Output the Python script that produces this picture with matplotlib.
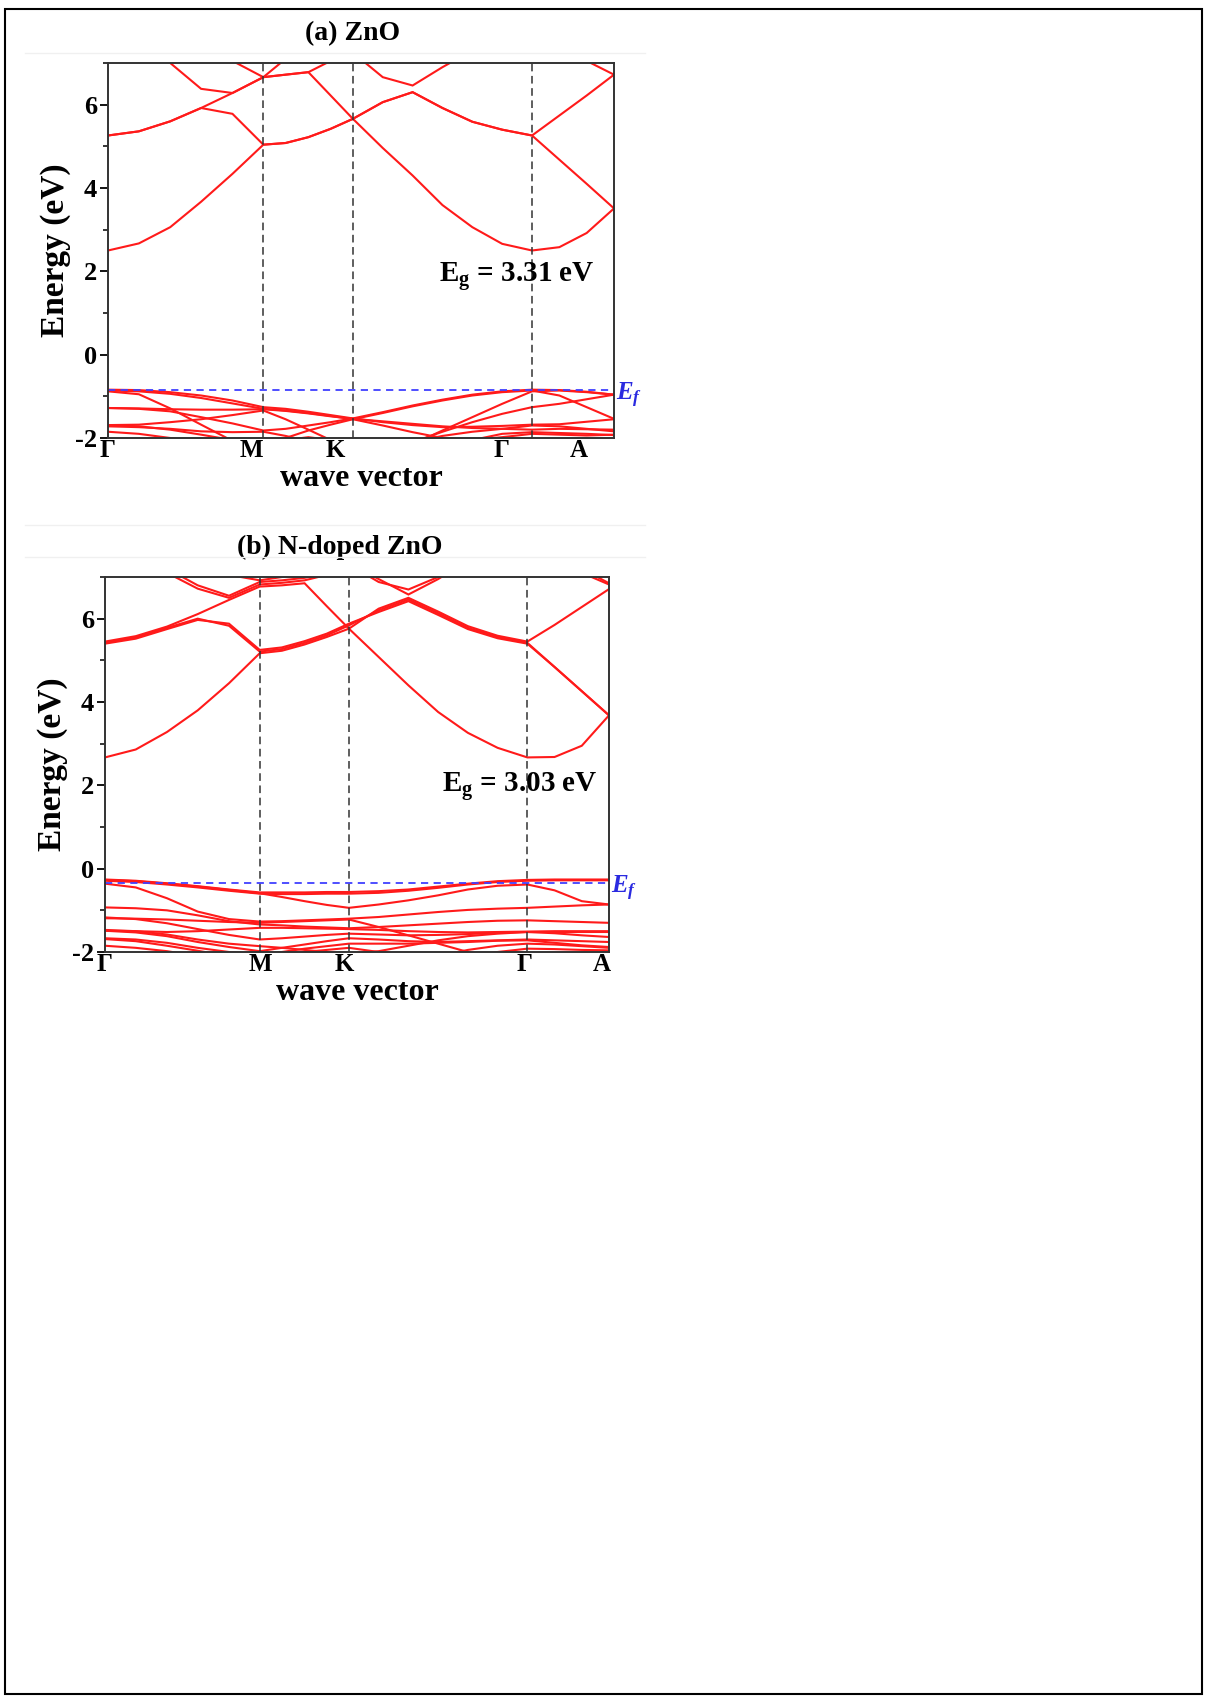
import matplotlib
matplotlib.use("Agg")
import matplotlib.pyplot as plt
import matplotlib.transforms as mtransforms
from matplotlib.lines import Line2D
from matplotlib.patches import Rectangle
from matplotlib.ticker import MultipleLocator

plt.rcParams["font.family"] = ["Liberation Serif", "DejaVu Serif"]
plt.rcParams["font.weight"] = "bold"
plt.rcParams["axes.unicode_minus"] = False
plt.rcParams["mathtext.fontset"] = "custom"
plt.rcParams["mathtext.rm"] = "Liberation Serif:bold"
plt.rcParams["mathtext.bf"] = "Liberation Serif:bold"
plt.rcParams["mathtext.it"] = "Liberation Serif:italic"

W, H = 1205, 1697

# k-path sampling (fraction of path length) and high-symmetry points
K_PATH = [0.000, 0.061, 0.123, 0.184, 0.246, 0.307, 0.351, 0.396, 0.440, 0.484,
          0.543, 0.602, 0.661, 0.720, 0.779, 0.838, 0.892, 0.946, 1.000]
HSP_LINES = [0.307, 0.484, 0.838]
HSP_NAMES = ["Γ", "M", "K", "Γ", "A"]

# (a) ZnO bands, eV
ZNO_CONDUCTION = [
    [2.50, 2.67, 3.06, 3.67, 4.34, 5.04, 5.08, 5.22, 5.42, 5.66, 4.96, 4.30, 3.59, 3.06, 2.66, 2.50, 2.58, 2.92, 3.51],
    [5.26, 5.36, 5.60, 5.92, 5.78, 5.04, 5.08, 5.22, 5.42, 5.66, 6.06, 6.30, 5.92, 5.59, 5.40, 5.26, 4.68, 4.10, 3.51],
    [5.26, 5.36, 5.60, 5.92, 6.28, 6.66, 6.72, 6.78, 6.22, 5.66, 6.06, 6.30, 5.92, 5.59, 5.40, 5.26, 5.74, 6.22, 6.72],
    [7.80, 7.40, 7.00, 6.38, 6.28, 6.66, 6.72, 6.78, 7.05, 7.25, 6.66, 6.46, 6.90, 7.30, 7.60, 7.80, 7.50, 7.05, 6.72],
    [8.60, 8.30, 8.00, 7.60, 7.05, 6.66, 7.10, 7.50, 7.80, 8.00, 8.00, 8.00, 8.00, 8.00, 8.00, 8.00, 8.00, 8.00, 8.00],
]
ZNO_VALENCE = [
    [-0.84, -0.85, -0.90, -0.98, -1.10, -1.26, -1.30, -1.37, -1.45, -1.53, -1.38, -1.22, -1.08, -0.96, -0.88, -0.84, -0.85, -0.89, -0.96],
    [-0.86, -0.88, -0.94, -1.04, -1.17, -1.30, -1.34, -1.40, -1.47, -1.55, -1.40, -1.24, -1.10, -0.98, -0.90, -0.86, -0.98, -1.26, -1.54],
    [-0.88, -0.95, -1.29, -1.68, -2.07, -2.40, -2.50, -2.55, -2.60, -2.62, -2.45, -2.15, -1.82, -1.50, -1.18, -0.88, -0.86, -0.90, -0.96],
    [-1.28, -1.30, -1.36, -1.50, -1.65, -1.82, -1.78, -1.70, -1.62, -1.53, -1.62, -1.69, -1.74, -1.73, -1.71, -1.68, -1.67, -1.61, -1.55],
    [-1.28, -1.29, -1.31, -1.32, -1.32, -1.31, -1.35, -1.41, -1.48, -1.54, -1.60, -1.66, -1.72, -1.76, -1.78, -1.80, -1.78, -1.79, -1.80],
    [-1.69, -1.68, -1.62, -1.55, -1.45, -1.34, -1.55, -1.80, -2.05, -2.30, -2.40, -2.10, -1.85, -1.62, -1.42, -1.26, -1.18, -1.07, -0.96],
    [-1.69, -1.72, -1.80, -1.92, -2.05, -2.20, -2.00, -1.82, -1.68, -1.55, -1.70, -1.86, -2.00, -2.05, -1.98, -1.90, -1.92, -1.94, -1.92],
    [-1.72, -1.74, -1.78, -1.84, -1.86, -1.85, -1.95, -2.08, -2.20, -2.30, -2.25, -2.10, -1.95, -1.85, -1.78, -1.70, -1.72, -1.78, -1.84],
    [-1.85, -1.90, -2.00, -2.10, -2.15, -2.10, -2.05, -1.98, -2.05, -2.15, -2.30, -2.40, -2.25, -2.05, -1.90, -1.86, -1.88, -1.90, -1.93],
]
ZNO_EF = -0.84
ZNO_GAP = "3.31"

# (b) N-doped ZnO bands, eV
NZNO_CONDUCTION = [
    [2.67, 2.86, 3.28, 3.80, 4.45, 5.17, 5.23, 5.38, 5.56, 5.76, 5.08, 4.40, 3.76, 3.26, 2.90, 2.67, 2.68, 2.95, 3.68],
    [5.42, 5.55, 5.78, 6.00, 5.83, 5.21, 5.27, 5.42, 5.60, 5.84, 6.20, 6.46, 6.13, 5.78, 5.56, 5.42, 4.84, 4.26, 3.68],
    [5.45, 5.58, 5.81, 6.11, 6.45, 6.77, 6.80, 6.85, 6.30, 5.76, 6.24, 6.50, 6.17, 5.82, 5.59, 5.45, 5.85, 6.28, 6.71],
    [5.40, 5.52, 5.75, 5.97, 5.88, 5.25, 5.31, 5.46, 5.64, 5.88, 6.16, 6.42, 6.09, 5.75, 5.53, 5.40, 4.84, 4.26, 3.68],
    [7.90, 7.50, 7.10, 6.72, 6.50, 6.82, 6.86, 6.92, 7.05, 7.30, 6.88, 6.70, 7.00, 7.40, 7.70, 7.90, 7.60, 7.10, 6.82],
    [8.00, 7.60, 7.20, 6.80, 6.55, 6.88, 6.92, 6.98, 7.10, 7.35, 6.95, 6.58, 6.95, 7.40, 7.70, 8.00, 7.70, 7.20, 6.85],
    [8.60, 8.30, 8.00, 7.60, 7.05, 6.92, 7.00, 7.10, 7.40, 7.80, 8.00, 8.00, 8.00, 8.00, 8.00, 8.00, 8.00, 8.00, 8.00],
]
NZNO_VALENCE = [
    [-0.26, -0.29, -0.35, -0.42, -0.50, -0.57, -0.57, -0.57, -0.56, -0.56, -0.54, -0.50, -0.43, -0.36, -0.30, -0.27, -0.26, -0.26, -0.26],
    [-0.29, -0.32, -0.38, -0.45, -0.53, -0.60, -0.61, -0.61, -0.60, -0.60, -0.58, -0.53, -0.46, -0.38, -0.32, -0.29, -0.28, -0.28, -0.28],
    [-0.36, -0.45, -0.71, -1.03, -1.21, -1.27, -1.26, -1.24, -1.22, -1.20, -1.16, -1.10, -1.04, -0.99, -0.96, -0.94, -0.91, -0.88, -0.86],
    [-0.27, -0.30, -0.36, -0.43, -0.51, -0.59, -0.68, -0.78, -0.87, -0.94, -0.86, -0.76, -0.64, -0.50, -0.41, -0.38, -0.52, -0.78, -0.86],
    [-0.93, -0.95, -1.00, -1.12, -1.26, -1.34, -1.36, -1.39, -1.41, -1.43, -1.40, -1.36, -1.32, -1.28, -1.25, -1.24, -1.26, -1.28, -1.30],
    [-1.17, -1.21, -1.31, -1.45, -1.59, -1.70, -1.67, -1.63, -1.59, -1.56, -1.58, -1.60, -1.59, -1.57, -1.54, -1.52, -1.52, -1.52, -1.52],
    [-1.19, -1.20, -1.22, -1.25, -1.28, -1.30, -1.28, -1.26, -1.24, -1.22, -1.40, -1.60, -1.80, -2.00, -2.20, -2.30, -2.30, -2.30, -2.30],
    [-1.47, -1.50, -1.58, -1.70, -1.80, -1.86, -1.90, -1.95, -2.00, -2.05, -1.98, -1.85, -1.72, -1.62, -1.56, -1.52, -1.55, -1.60, -1.64],
    [-1.49, -1.53, -1.62, -1.76, -1.88, -1.98, -1.90, -1.82, -1.74, -1.67, -1.70, -1.74, -1.76, -1.74, -1.72, -1.70, -1.72, -1.74, -1.76],
    [-1.67, -1.70, -1.78, -1.90, -2.00, -2.05, -2.00, -1.92, -1.86, -1.80, -1.80, -1.80, -1.78, -1.76, -1.73, -1.72, -1.78, -1.84, -1.88],
    [-1.69, -1.74, -1.85, -1.97, -2.10, -2.20, -2.20, -2.15, -2.10, -2.05, -2.20, -2.20, -2.10, -1.95, -1.85, -1.80, -1.82, -1.86, -1.90],
    [-1.85, -1.90, -1.98, -2.10, -2.20, -2.20, -2.10, -2.00, -1.95, -1.90, -2.00, -2.10, -2.20, -2.10, -2.00, -1.92, -1.93, -1.95, -1.96],
    [-1.49, -1.50, -1.52, -1.50, -1.46, -1.42, -1.42, -1.43, -1.44, -1.45, -1.47, -1.50, -1.52, -1.53, -1.52, -1.51, -1.50, -1.50, -1.50],
]
NZNO_EF = -0.34
NZNO_GAP = "3.03"


def px_box(left, top, right, bottom):
    """Figure-fraction rect from pixel edges (origin top-left)."""
    return [left / W, 1 - bottom / H, (right - left) / W, (bottom - top) / H]


def draw_panel(ax, conduction, valence, ef, gap, title, title_x, label_pos, gap_x, gap_y):
    for band in conduction + valence:
        ax.plot(K_PATH, band, color="#ff1a1a", linewidth=1.5, solid_joinstyle="miter")
    for x in HSP_LINES:
        ax.axvline(x, color="#333333", linestyle=(0, (5, 3)), linewidth=1.1)
    ax.axhline(ef, color="#4040ff", linestyle=(0, (4, 3)), linewidth=1.3)

    ax.set_xlim(0, 1)
    ax.set_ylim(-2, 7)
    ax.yaxis.set_major_locator(MultipleLocator(2))
    ax.yaxis.set_minor_locator(MultipleLocator(1))
    ax.tick_params(axis="y", which="major", direction="out", length=6, width=1.3,
                   labelsize=19, pad=2)
    ax.tick_params(axis="y", which="minor", direction="out", length=3.5, width=1.1)
    ax.set_xticks(label_pos, HSP_NAMES)
    ax.tick_params(axis="x", length=0, labelsize=18, pad=1)
    for side in ax.spines.values():
        side.set_linewidth(1.4)
        side.set_color("#333333")

    ax.set_xlabel("wave vector", fontsize=23, fontweight="bold", labelpad=1)
    ax.set_ylabel("Energy (eV)", fontsize=24, fontweight="bold", labelpad=3)
    ax.text(title_x, 1.078, title, transform=ax.transAxes, ha="center", va="center",
            fontsize=20, fontweight="bold")

    mixed = mtransforms.blended_transform_factory(ax.transAxes, ax.transData)
    ax.text(gap_x, gap_y, r"E$_\mathbf{g}$ = " + gap + " eV", transform=mixed,
            ha="right", va="center", fontsize=21, fontweight="bold")
    ax.text(1.004, ef - 0.14, r"$E_f$", transform=mixed, ha="left", va="center",
            fontsize=18, color="#2a2ae0")


fig = plt.figure(figsize=(W / 100, H / 100), dpi=100)

ax_a = fig.add_axes(px_box(108, 63, 614, 438))
draw_panel(ax_a, ZNO_CONDUCTION, ZNO_VALENCE, ZNO_EF, ZNO_GAP, "(a) ZnO", 0.484,
           [0.0, 0.283, 0.450, 0.777, 0.930], 0.962, 1.88)

ax_b = fig.add_axes(px_box(105, 577, 609, 952))
draw_panel(ax_b, NZNO_CONDUCTION, NZNO_VALENCE, NZNO_EF, NZNO_GAP, "(b) N-doped ZnO", 0.465,
           [0.0, 0.309, 0.474, 0.833, 0.985], 0.978, 1.98)

# faint seams from the pasted source image, and the outer frame
for y in (53, 525, 557):
    fig.add_artist(Line2D([25 / W, 645 / W], [1 - y / H, 1 - y / H], color="#f0f0f0",
                          linewidth=1.0, transform=fig.transFigure))
fig.add_artist(Rectangle((5 / W, 1 - 1694 / H), 1197 / W, 1685 / H, fill=False,
                         edgecolor="black", linewidth=1.5, transform=fig.transFigure))

fig.savefig("out.png", dpi=100)
